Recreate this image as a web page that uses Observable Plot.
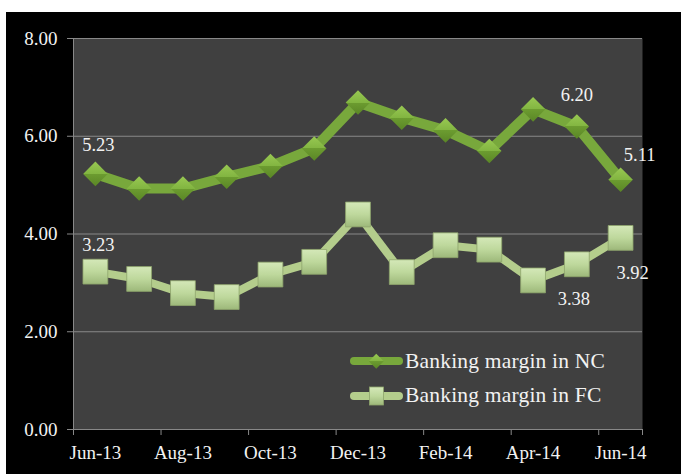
<!DOCTYPE html>
<html><head><meta charset="utf-8">
<script src="https://cdn.jsdelivr.net/npm/d3@7"></script>
<script src="https://cdn.jsdelivr.net/npm/@observablehq/plot@0.6"></script>
<style>
html,body{margin:0;padding:0;background:#fff;}
#wrap{position:relative;width:681px;height:474px;overflow:hidden;background:#fff;}
#chart{position:absolute;left:6px;top:12px;width:675px;height:462px;background:#000;}
#legend{position:absolute;left:349px;top:344px;font-family:"Liberation Serif","Times New Roman",Times,"DejaVu Serif",serif;font-size:21.5px;letter-spacing:0.2px;color:#f2f2f2;}
.row{display:flex;align-items:center;height:34.5px;white-space:nowrap;}
.row svg{display:block;}
#chart svg text{font-family:"Liberation Serif","Times New Roman",Times,"DejaVu Serif",serif;}
</style></head>
<body><div id="wrap"><div id="chart"></div><div id="legend"></div></div>
<script>
const months = ["Jun-13","Jul-13","Aug-13","Sep-13","Oct-13","Nov-13","Dec-13","Jan-14","Feb-14","Mar-14","Apr-14","May-14","Jun-14"];
const ncValues = [5.23,4.93,4.93,5.17,5.39,5.75,6.69,6.38,6.12,5.70,6.55,6.20,5.11];
const fcValues = [3.23,3.08,2.79,2.71,3.17,3.43,4.40,3.22,3.77,3.68,3.05,3.38,3.92];
const seriesNames = ["Banking margin in NC","Banking margin in FC"];
const yTicks = [0,2,4,6,8];
const xTickBoundaries = [0,2,4,6,8,10,12,13];

const idx = months.map((m,i)=>i);
const labelIdx = idx.filter(i=>i%2===0);
const pos = i => i + 0.5;
const txt = "#f2f2f2";
const serif = "'Liberation Serif', 'Times New Roman', Times, 'DejaVu Serif', serif";

const label = (vals, i, dx, dy) => Plot.text([i], {x: pos, y: j=>vals[j], text: j=>vals[j].toFixed(2), dx, dy, fill: txt, fontSize: 18.5, fontFamily: serif});

const svg = Plot.plot({
  width: 675, height: 462,
  marginLeft: 67, marginRight: 39, marginTop: 26, marginBottom: 45,
  style: {background: "#000", color: txt, fontFamily: serif, fontSize: "19px"},
  x: {type: "linear", domain: [0,13]},
  y: {domain: [0,8]},
  marks: [
    Plot.frame({fill: "#404040", stroke: "none"}),
    Plot.gridY(yTicks, {stroke: "#888", strokeOpacity: 1}),
    Plot.ruleX([0], {stroke: "#888"}),
    Plot.axisY(yTicks, {tickSize: 6, tickFormat: () => "", color: "#888", label: null}),
    Plot.axisY(yTicks, {tickSize: 0, tickPadding: 16, tickFormat: d => d.toFixed(2), color: txt, label: null, fontFamily: serif}),
    Plot.axisX(xTickBoundaries, {tickSize: 6, tickFormat: () => "", color: "#888", label: null}),
    Plot.axisX(labelIdx.map(pos), {tickSize: 0, tickPadding: 16, tickFormat: v => months[Math.round(v-0.5)], color: txt, label: null, fontFamily: serif}),
    Plot.line(idx, {x: pos, y: i=>ncValues[i], stroke: "#78a83c", strokeWidth: 10, strokeLinejoin: "round"}),
    Plot.line(idx, {x: pos, y: i=>fcValues[i], stroke: "#b4cd8c", strokeWidth: 8, strokeLinejoin: "round"}),
    Plot.dot(idx, {x: pos, y: i=>ncValues[i], symbol: "square", r: 9.8, rotate: 45, fill: "url(#gNC)", stroke: "none"}),
    Plot.dot(idx, {x: pos, y: i=>fcValues[i], symbol: "square", r: 14, fill: "url(#gFC)", stroke: "#8ea56c", strokeWidth: 0.8}),
    label(ncValues, 0, 3, -29),
    label(ncValues, 11, 0, -31),
    label(ncValues, 12, 19, -25),
    label(fcValues, 0, 3, -27),
    label(fcValues, 11, -3, 35),
    label(fcValues, 12, 12, 35)
  ]
});
svg.insertAdjacentHTML("afterbegin", `<defs>
<linearGradient id="gNC" x1="0" y1="0" x2="1" y2="1">
<stop offset="0" stop-color="#98c852"/><stop offset="0.5" stop-color="#82b541"/>
<stop offset="0.5" stop-color="#6c9c30"/><stop offset="1" stop-color="#5a8626"/></linearGradient>
<linearGradient id="gFC" x1="0" y1="0" x2="0" y2="1">
<stop offset="0" stop-color="#d4e8b8"/><stop offset="0.5" stop-color="#bed89c"/>
<stop offset="1" stop-color="#9db87a"/></linearGradient>
</defs>`);
document.getElementById("chart").appendChild(svg);

const legend = document.getElementById("legend");
const samples = [
  `<svg width="56" height="24"><line x1="5" y1="12" x2="50" y2="12" stroke="#78a83c" stroke-width="8" stroke-linecap="round"/><rect x="22" y="7" width="10.5" height="10.5" transform="rotate(45 27.25 12.25)" fill="url(#gNC)"/></svg>`,
  `<svg width="56" height="24"><line x1="5" y1="12" x2="50" y2="12" stroke="#b4cd8c" stroke-width="8" stroke-linecap="round"/><rect x="20.5" y="3" width="14" height="18" fill="url(#gFC)" stroke="#8ea56c" stroke-width="0.8"/></svg>`
];
seriesNames.forEach((name, k) => {
  const row = document.createElement("div");
  row.className = "row";
  row.innerHTML = samples[k] + `<span>${name}</span>`;
  legend.appendChild(row);
});
</script>
</body></html>
